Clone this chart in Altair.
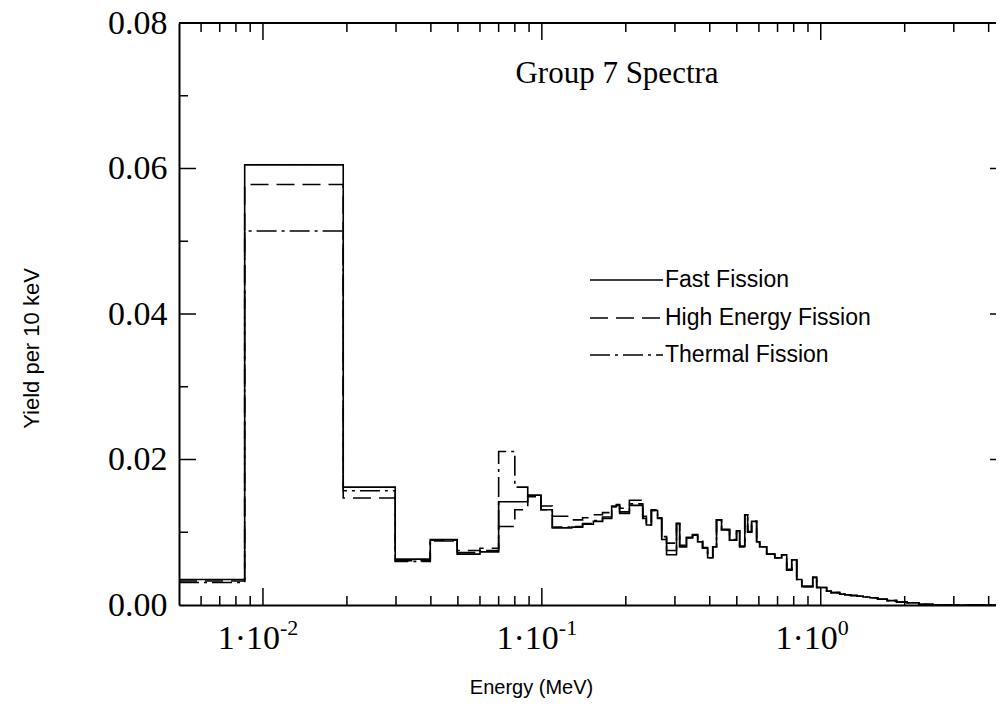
import altair as alt
import pandas as pd

# ---------------- data ----------------
series_names = ["Fast Fission", "High Energy Fission", "Thermal Fission"]

# left bin edges in MeV, last entry is the right end of the last bin
edges = [0.005, 0.0086, 0.0194, 0.0298, 0.0398, 0.0497, 0.060, 0.070, 0.080, 0.089,
         0.0993, 0.109, 0.128, 0.140, 0.153, 0.165, 0.178, 0.185, 0.190, 0.206,
         0.230, 0.237, 0.247, 0.260, 0.269, 0.280, 0.304, 0.312, 0.330, 0.347,
         0.362, 0.377, 0.393, 0.410, 0.423, 0.441, 0.471, 0.499, 0.512, 0.534,
         0.547, 0.565, 0.589, 0.604, 0.640, 0.684, 0.724, 0.755, 0.787, 0.820,
         0.855, 0.936, 0.967, 1.05, 1.09, 1.12, 1.17, 1.22, 1.28, 1.35,
         1.42, 1.50, 1.60, 1.73, 1.87, 2.04, 2.25, 2.52, 4.25]

fast = [0.0035, 0.0605, 0.0162, 0.0063, 0.0090, 0.0070, 0.0073, 0.0142, 0.0142, 0.0151,
        0.0131, 0.0106, 0.0107, 0.0111, 0.0115, 0.0119, 0.0135, 0.0137, 0.0126, 0.0137,
        0.0119, 0.0110, 0.0130, 0.0119, 0.0090, 0.0069, 0.0112, 0.0080, 0.0092, 0.0096,
        0.0087, 0.0078, 0.0065, 0.0080, 0.0117, 0.0103, 0.0089, 0.0102, 0.0080, 0.0124,
        0.0100, 0.0115, 0.0087, 0.0080, 0.0070, 0.0065, 0.0069, 0.0048, 0.0062, 0.0035,
        0.0025, 0.0038, 0.0024, 0.0019, 0.0017, 0.0017, 0.0015, 0.0014, 0.0013, 0.0012,
        0.0011, 0.0010, 0.0008, 0.0006, 0.0004, 0.0003, 0.0001, 0.0000]

high = [0.0033, 0.0578, 0.0147, 0.0061, 0.0089, 0.0075, 0.0078, 0.0108, 0.0131, 0.0149,
        0.0136, 0.0122, 0.0117, 0.0120, 0.0124, 0.0127, 0.0136, 0.0138, 0.0133, 0.0144,
        0.0122, 0.0112, 0.0131, 0.0120, 0.0094, 0.0085, 0.0112, 0.0082, 0.0093, 0.0097,
        0.0088, 0.0079, 0.0066, 0.0080, 0.0117, 0.0104, 0.0090, 0.0102, 0.0081, 0.0124,
        0.0101, 0.0115, 0.0088, 0.0080, 0.0071, 0.0065, 0.0069, 0.0049, 0.0062, 0.0036,
        0.0026, 0.0038, 0.0024, 0.0019, 0.0017, 0.0017, 0.0015, 0.0014, 0.0013, 0.0012,
        0.0011, 0.0010, 0.0008, 0.0006, 0.0004, 0.0003, 0.0001, 0.0000]

thermal = [0.0031, 0.0514, 0.0157, 0.0060, 0.0088, 0.0072, 0.0075, 0.0211, 0.0162, 0.0150,
           0.0131, 0.0107, 0.0108, 0.0112, 0.0116, 0.0121, 0.0135, 0.0137, 0.0128, 0.0139,
           0.0120, 0.0110, 0.0130, 0.0119, 0.0092, 0.0075, 0.0112, 0.0080, 0.0092, 0.0096,
           0.0087, 0.0078, 0.0065, 0.0080, 0.0117, 0.0103, 0.0089, 0.0102, 0.0080, 0.0124,
           0.0100, 0.0115, 0.0087, 0.0080, 0.0070, 0.0065, 0.0069, 0.0048, 0.0062, 0.0035,
           0.0025, 0.0038, 0.0024, 0.0019, 0.0017, 0.0017, 0.0015, 0.0014, 0.0013, 0.0012,
           0.0011, 0.0010, 0.0008, 0.0006, 0.0004, 0.0003, 0.0001, 0.0000]

x_domain = [0.005, 4.25]
y_domain = [0.0, 0.08]
y_label_values = [0.0, 0.02, 0.04, 0.06, 0.08]
y_major_ticks = [0.02, 0.04, 0.06]
y_minor_ticks = [0.01, 0.03, 0.05, 0.07]
x_major_ticks = [0.01, 0.1, 1.0]
x_minor_ticks = [0.006, 0.007, 0.008, 0.009,
                 0.02, 0.03, 0.04, 0.05, 0.06, 0.07, 0.08, 0.09,
                 0.2, 0.3, 0.4, 0.5, 0.6, 0.7, 0.8, 0.9,
                 2.0, 3.0, 4.0]
x_label_base = ["1\u00b710", "1\u00b710", "1\u00b710"]
x_label_exp = ["-2", "-1", "0"]
chart_title = "Group 7 Spectra"

# ---------------- build tables ----------------
rows = []
for name, vals in zip(series_names, [fast, high, thermal]):
    for e, v in zip(edges[:-1], vals):
        rows.append({"series": name, "energy": e, "value": v})
    rows.append({"series": name, "energy": edges[-1], "value": vals[-1]})
df = pd.DataFrame(rows)

W, H = 817, 582
SERIF = "Liberation Serif"
SANS = "Liberation Sans"

x_scale = alt.Scale(type="log", domain=x_domain, nice=False)
y_scale = alt.Scale(domain=y_domain, nice=False)

lines = alt.Chart(df).mark_line(interpolate="step-after", color="black", strokeWidth=1.6).encode(
    x=alt.X("energy:Q", scale=x_scale,
            axis=alt.Axis(labels=False, ticks=False, grid=False, domain=True,
                          domainColor="black", domainWidth=2,
                          title="Energy (MeV)", titleFont=SANS, titleFontSize=20,
                          titleFontWeight="normal", titleColor="black",
                          titleBaseline="alphabetic", titleY=88, titleX=352)),
    y=alt.Y("value:Q", scale=y_scale,
            axis=alt.Axis(values=y_label_values, format=".2f", ticks=False, grid=False,
                          domain=True, domainColor="black", domainWidth=2,
                          labelFont=SERIF, labelFontSize=34, labelColor="black",
                          labelPadding=12, labelFlush=False, labelOverlap=False,
                          labelBaseline="middle",
                          title="Yield per 10 keV", titleFont=SANS, titleFontSize=22,
                          titleFontWeight="normal", titleColor="black",
                          titleX=-136, titleY=325)),
    strokeDash=alt.StrokeDash("series:N",
                              scale=alt.Scale(domain=series_names,
                                              range=[[1, 0], [18, 8], [20, 5, 3, 5]]),
                              legend=None),
)

def xticks(values, length, top):
    d = pd.DataFrame({"energy": values})
    if top:
        enc = dict(y=alt.value(0), y2=alt.value(length))
    else:
        enc = dict(y=alt.value(H), y2=alt.value(H - length))
    return alt.Chart(d).mark_rule(color="black", strokeWidth=1.5).encode(
        x=alt.X("energy:Q", scale=x_scale), **enc)

def yticks(values, x0, x1):
    d = pd.DataFrame({"value": values})
    return alt.Chart(d).mark_rule(color="black", strokeWidth=1.5).encode(
        y=alt.Y("value:Q", scale=y_scale), x=alt.value(x0), x2=alt.value(x1))

top_line = alt.Chart(pd.DataFrame({"value": [0.08]})).mark_rule(color="black", strokeWidth=2).encode(
    y=alt.Y("value:Q", scale=y_scale), x=alt.value(0), x2=alt.value(W))

ticks = [
    xticks(x_major_ticks, 17, False), xticks(x_minor_ticks, 9, False),
    xticks(x_major_ticks, 17, True), xticks(x_minor_ticks, 9, True),
    yticks(y_major_ticks, 0, 17), yticks(y_minor_ticks, 0, 9),
    yticks(y_major_ticks, W - 6, W),
]

lab_df = pd.DataFrame({"energy": x_major_ticks, "base": x_label_base, "exp": x_label_exp})
xlab_base = alt.Chart(lab_df).mark_text(font=SERIF, fontSize=34, align="right",
                                        baseline="alphabetic", dx=17, color="black").encode(
    x=alt.X("energy:Q", scale=x_scale), y=alt.value(H + 44), text="base:N")
xlab_exp = alt.Chart(lab_df).mark_text(font=SERIF, fontSize=22, align="left",
                                       baseline="alphabetic", dx=17, color="black").encode(
    x=alt.X("energy:Q", scale=x_scale), y=alt.value(H + 30), text="exp:N")

title_txt = alt.Chart(pd.DataFrame({"t": [chart_title]})).mark_text(
    font=SERIF, fontSize=31, align="center", baseline="alphabetic", color="black").encode(
    x=alt.value(438), y=alt.value(60), text="t:N")

legend_dashes = [[1, 0], [18, 8], [20, 5, 3, 5]]
legend_rows_y = [257, 295, 332]
legend_layers = []
for name, dash, ly in zip(series_names, legend_dashes, legend_rows_y):
    ld = pd.DataFrame({"series": [name]})
    legend_layers.append(alt.Chart(ld).mark_rule(color="black", strokeWidth=1.5, strokeDash=dash).encode(
        x=alt.value(411), x2=alt.value(484), y=alt.value(ly)))
    legend_layers.append(alt.Chart(ld).mark_text(font=SANS, fontSize=23, align="left",
                                                 baseline="middle", color="black").encode(
        x=alt.value(486), y=alt.value(ly), text="series:N"))

chart = alt.layer(lines, top_line, *ticks, xlab_base, xlab_exp, title_txt, *legend_layers).properties(
    width=W, height=H,
    autosize=alt.AutoSizeParams(type="none"),
    padding={"left": 171, "top": 15, "right": 0, "bottom": 98},
).configure_view(stroke=None).configure(background="white")

chart.save("out.html", embed_options={"renderer": "svg", "actions": False})
